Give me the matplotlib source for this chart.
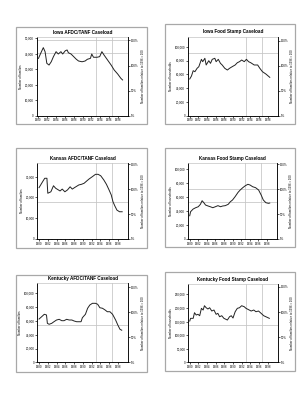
import matplotlib
matplotlib.use('Agg')
import matplotlib.pyplot as plt
from matplotlib.patches import Rectangle
from matplotlib.ticker import FuncFormatter

plt.rcParams['font.family'] = ['Liberation Sans', 'DejaVu Sans']

# caseload data (year, count)
iowa_afdc_years = [1980.0, 1980.5, 1981.1, 1981.5, 1981.9, 1982.4, 1982.9, 1983.4, 1984.0, 1984.5,
                   1985.1, 1985.5, 1986.1, 1986.5, 1986.8, 1987.4, 1988.0, 1988.6, 1989.1, 1989.9,
                   1990.6, 1991.1, 1991.8, 1992.1, 1992.5, 1993.3, 1993.9, 1994.4, 1994.9, 1995.7,
                   1996.5, 1997.2, 1998.0, 1998.7, 1999.1]
iowa_afdc_values = [36900, 40100, 43800, 41200, 33700, 32600, 34700, 38000, 41200, 39700,
                    41200, 39700, 41800, 42300, 40500, 39700, 38000, 36300, 35200, 34700,
                    35200, 36300, 36900, 39700, 37600, 37600, 38000, 41200, 39000, 35800,
                    32600, 29400, 26800, 24100, 23000]

iowa_fs_years = [1980.0, 1980.4, 1980.8, 1981.2, 1981.7, 1982.1, 1982.7, 1983.0, 1983.5, 1983.8,
                 1984.4, 1984.8, 1985.2, 1985.8, 1986.1, 1986.6, 1987.1, 1987.5, 1988.1, 1988.7,
                 1989.2, 1989.8, 1990.5, 1991.0, 1991.5, 1992.0, 1992.6, 1993.1, 1993.6, 1994.1,
                 1994.9, 1995.7, 1996.2, 1996.8, 1997.6, 1998.5]
iowa_fs_values = [53200, 57500, 65200, 63800, 68700, 71000, 81700, 78300, 83200, 73500,
                  79700, 75900, 81700, 83200, 78300, 81700, 75900, 73500, 68700, 66200,
                  68700, 71000, 73500, 76800, 78300, 80700, 78300, 81700, 78300, 76800,
                  73500, 73500, 68700, 63800, 60400, 55600]

kansas_afdc_years = [1980.0, 1980.8, 1981.3, 1981.8, 1982.0, 1982.7, 1983.3, 1983.8, 1984.8, 1985.3,
                     1985.9, 1986.5, 1987.1, 1987.6, 1988.1, 1989.1, 1989.7, 1990.3, 1990.9, 1991.4,
                     1992.2, 1992.9, 1993.5, 1994.1, 1994.8, 1995.4, 1996.0, 1996.5, 1996.9, 1997.3,
                     1997.8, 1998.4, 1999.0]
kansas_afdc_values = [24700, 27500, 29200, 29200, 22000, 22700, 25600, 24400, 23100, 24000,
                      22700, 23600, 25100, 24000, 24700, 26000, 26300, 26800, 27900, 28800,
                      30000, 31100, 31100, 30400, 28400, 26300, 23600, 21200, 17900, 16000,
                      13900, 13100, 13100]

kansas_fs_years = [1980.0, 1980.2, 1980.8, 1981.4, 1982.0, 1982.5, 1982.9, 1983.3, 1983.7, 1984.3,
                   1984.8, 1985.4, 1986.0, 1986.6, 1987.2, 1987.7, 1988.3, 1989.0, 1989.5, 1990.0,
                   1990.6, 1991.3, 1991.8, 1992.4, 1993.0, 1993.6, 1994.1, 1994.7, 1995.4, 1996.1,
                   1996.7, 1997.2, 1997.8, 1998.4, 1998.7]
kansas_fs_values = [33000, 38700, 42500, 44400, 45800, 49200, 54300, 51500, 48200, 46800,
                    45800, 44400, 45800, 47300, 45800, 46800, 47300, 49200, 52900, 55300,
                    60000, 66200, 69500, 72800, 75600, 77600, 76600, 74200, 72800, 69500,
                    62400, 55300, 51500, 50600, 51000]

kentucky_afdc_years = [1980.0, 1980.6, 1981.2, 1981.7, 1981.9, 1982.3, 1982.9, 1983.4, 1984.0, 1984.6,
                       1985.2, 1985.7, 1986.3, 1986.9, 1987.5, 1988.0, 1988.6, 1989.0, 1989.6, 1989.9,
                       1990.6, 1991.1, 1991.6, 1992.2, 1992.9, 1993.4, 1993.9, 1994.5, 1995.1, 1995.6,
                       1996.2, 1996.8, 1997.5, 1998.0, 1998.5, 1998.9]
kentucky_afdc_values = [62700, 66100, 69600, 68600, 56500, 55100, 56500, 58800, 61300, 62300,
                        60300, 60300, 62300, 61300, 61300, 59900, 58800, 58800, 58800, 64600,
                        69600, 78300, 83000, 85500, 85500, 84100, 79100, 78300, 75800, 73300,
                        73300, 69600, 61300, 54100, 47800, 46500]

kentucky_fs_years = [1980.0, 1980.2, 1980.8, 1981.1, 1981.5, 1981.9, 1982.3, 1982.7, 1983.1, 1983.4,
                     1983.8, 1984.2, 1984.6, 1985.1, 1985.6, 1986.1, 1986.5, 1986.9, 1987.4, 1987.9,
                     1988.7, 1989.2, 1989.6, 1990.0, 1990.5, 1991.0, 1991.5, 1992.0, 1992.6, 1993.0,
                     1994.2, 1994.8, 1995.3, 1995.9, 1996.5, 1997.1, 1997.6, 1998.4]
kentucky_fs_values = [151800, 161700, 161700, 182400, 173900, 176500, 171300, 198500, 192300, 208100,
                      200700, 196000, 200700, 188600, 192300, 176500, 180100, 167600, 171300, 161700,
                      155500, 167600, 171300, 162900, 186000, 198500, 200700, 208100, 204400, 198500,
                      188600, 192300, 186000, 188600, 180100, 171300, 167600, 161700]

year_ticks = list(range(1980, 1999, 2))
pct_ticks = [0, 50, 100, 150]
event_years = [1993.0, 1996.6]

W, H = 305, 400
fig = plt.figure(figsize=(3.05, 4.0), dpi=100)
fig.patch.set_facecolor('white')


def panel(frame, plot, title, years, values, yticks, ytop, base, hlines, ylab):
    fx0, fy0, fx1, fy1 = frame
    fig.patches.append(Rectangle((fx0 / W, 1 - fy1 / H), (fx1 - fx0) / W, (fy1 - fy0) / H,
                                 transform=fig.transFigure, fill=False,
                                 edgecolor='#a8a8a8', linewidth=0.9))
    x0, y0, x1, y1 = plot
    ax = fig.add_axes([x0 / W, 1 - y1 / H, (x1 - x0) / W, (y1 - y0) / H])
    for p in hlines:
        ax.axhline(p / 100 * base, color='#c4c4c4', lw=0.55, zorder=1)
    for v in event_years:
        ax.axvline(v, color='#c4c4c4', lw=0.55, zorder=1)
    ax.plot(years, values, color='#222222', lw=0.7, zorder=3)
    ax.set_xlim(1979.6, 2000.4)
    ax.set_ylim(0, ytop)
    ax.set_xticks(year_ticks)
    ax.set_xticks(range(1980, 2000), minor=True)
    ax.set_yticks(yticks)
    ax.yaxis.set_major_formatter(FuncFormatter(lambda v, p: f'{int(v):,}'))
    ax.tick_params(labelsize=2.1, length=1.2, width=0.45, pad=0.8)
    ax.tick_params(which='minor', length=0.8, width=0.35)
    for s in ['left', 'bottom']:
        ax.spines[s].set_linewidth(0.65)
    ax.spines['top'].set_color('#c4c4c4')
    ax.spines['top'].set_linewidth(0.5)
    ax.spines['right'].set_visible(False)
    ax.set_ylabel(ylab, fontsize=2.1, labelpad=1.2)

    ax2 = ax.twinx()
    ax2.set_ylim(0, ytop / base * 100)
    ax2.set_yticks(pct_ticks)
    ax2.set_yticklabels([f'{p}%' for p in pct_ticks])
    ax2.tick_params(labelsize=2.1, length=1.2, width=0.45, pad=0.8)
    for s in ['top', 'left', 'bottom']:
        ax2.spines[s].set_visible(False)
    ax2.spines['right'].set_linewidth(0.65)
    ax2.set_ylabel('Number of families relative to 1996 = 100', fontsize=2.1, labelpad=1.5)

    fig.text((x0 + x1) / 2 / W, 1 - (y0 - 5) / H, title, fontsize=3.3, fontweight='bold',
             ha='center', va='center')


panel((16, 26.7, 146.5, 124), (36.7, 37.3, 128.3, 115.7), 'Iowa AFDC/TANF Caseload',
      iowa_afdc_years, iowa_afdc_values, range(0, 50001, 10000), 50450, 32300, [125, 150],
      'Number of families')
panel((164.7, 24, 294.7, 124), (188, 36.7, 278, 115.7), 'Iowa Food Stamp Caseload',
      iowa_fs_years, iowa_fs_values, range(0, 100001, 20000), 114500, 72500, [125],
      'Number of households')
panel((16, 148.3, 146.7, 247.7), (37.3, 163.3, 128.3, 239), 'Kansas AFDC/TANF Caseload',
      kansas_afdc_years, kansas_afdc_values, range(0, 30001, 10000), 36400, 23900, [75],
      'Number of families')
panel((164.7, 148.3, 295.3, 246.7), (188, 163.3, 277, 239), 'Kansas Food Stamp Caseload',
      kansas_fs_years, kansas_fs_values, range(0, 100001, 20000), 107400, 70500, [75, 100],
      'Number of households')
panel((16, 275, 146.7, 371.7), (37.3, 283.3, 128.3, 362.3), 'Kentucky AFDC/TANF Caseload',
      kentucky_afdc_years, kentucky_afdc_values, range(0, 100001, 20000), 114500, 72500, [75],
      'Number of families')
panel((165.3, 272.3, 294.7, 371), (188, 284, 278, 362.3), 'Kentucky Food Stamp Caseload',
      kentucky_fs_years, kentucky_fs_values, range(0, 250001, 50000), 288000, 185000, [75],
      'Number of households')

fig.savefig('out.png', dpi=100, facecolor='white')
